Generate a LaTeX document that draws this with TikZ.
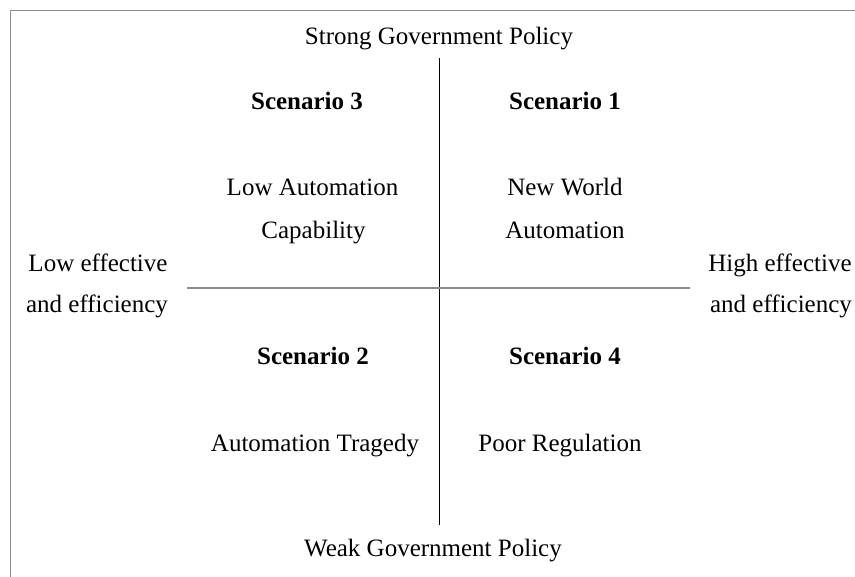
\documentclass[tikz,border=0pt]{standalone}
\usepackage{fontspec}
\setmainfont{Liberation Serif}
\begin{document}
\begin{tikzpicture}[x=1pt,y=-1pt,
  lbl/.style={font=\fontsize{25}{30}\selectfont, inner sep=0pt, anchor=base},
  head/.style={lbl, font=\fontsize{25}{30}\selectfont\bfseries},
  frameline/.style={draw=black!45, line width=1.2pt},
  axisline/.style={draw=black, line width=1pt}]
  \useasboundingbox (0,0) rectangle (855,577);
  % frame (top and left edges)
  \draw[frameline] (855,10.5) -- (10.5,10.5) -- (10.5,577);
  % axes
  \coordinate (vtop) at (439,58);
  \coordinate (vbot) at (439,525);
  \coordinate (hl) at (187,288);
  \coordinate (hr) at (690,288);
  \draw[axisline] (vtop) -- (vbot);
  \draw[frameline] (hl) -- (hr);
  % axis labels
  \node[lbl] (strong) at (439,45) {Strong Government Policy};
  \node[lbl] (weak) at (433,556) {Weak Government Policy};
  \node[lbl] (low1) at (98,272) {Low effective};
  \node[lbl] (low2) at (97,313) {and efficiency};
  \node[lbl] (high1) at (780,272) {High effective};
  \node[lbl] (high2) at (781,313) {and efficiency};
  % quadrants
  \node[head] (s3) at (307,110) {Scenario 3};
  \node[head] (s1) at (565,110) {Scenario 1};
  \node[head] (s2) at (313,365) {Scenario 2};
  \node[head] (s4) at (565,365) {Scenario 4};
  \node[lbl] (q3a) at (312.5,196) {Low Automation};
  \node[lbl] (q3b) at (313.5,239) {Capability};
  \node[lbl] (q1a) at (565,196) {New World};
  \node[lbl] (q1b) at (565,239) {Automation};
  \node[lbl] (q2) at (315,452) {Automation Tragedy};
  \node[lbl] (q4) at (560,452) {Poor Regulation};
\end{tikzpicture}
\end{document}
